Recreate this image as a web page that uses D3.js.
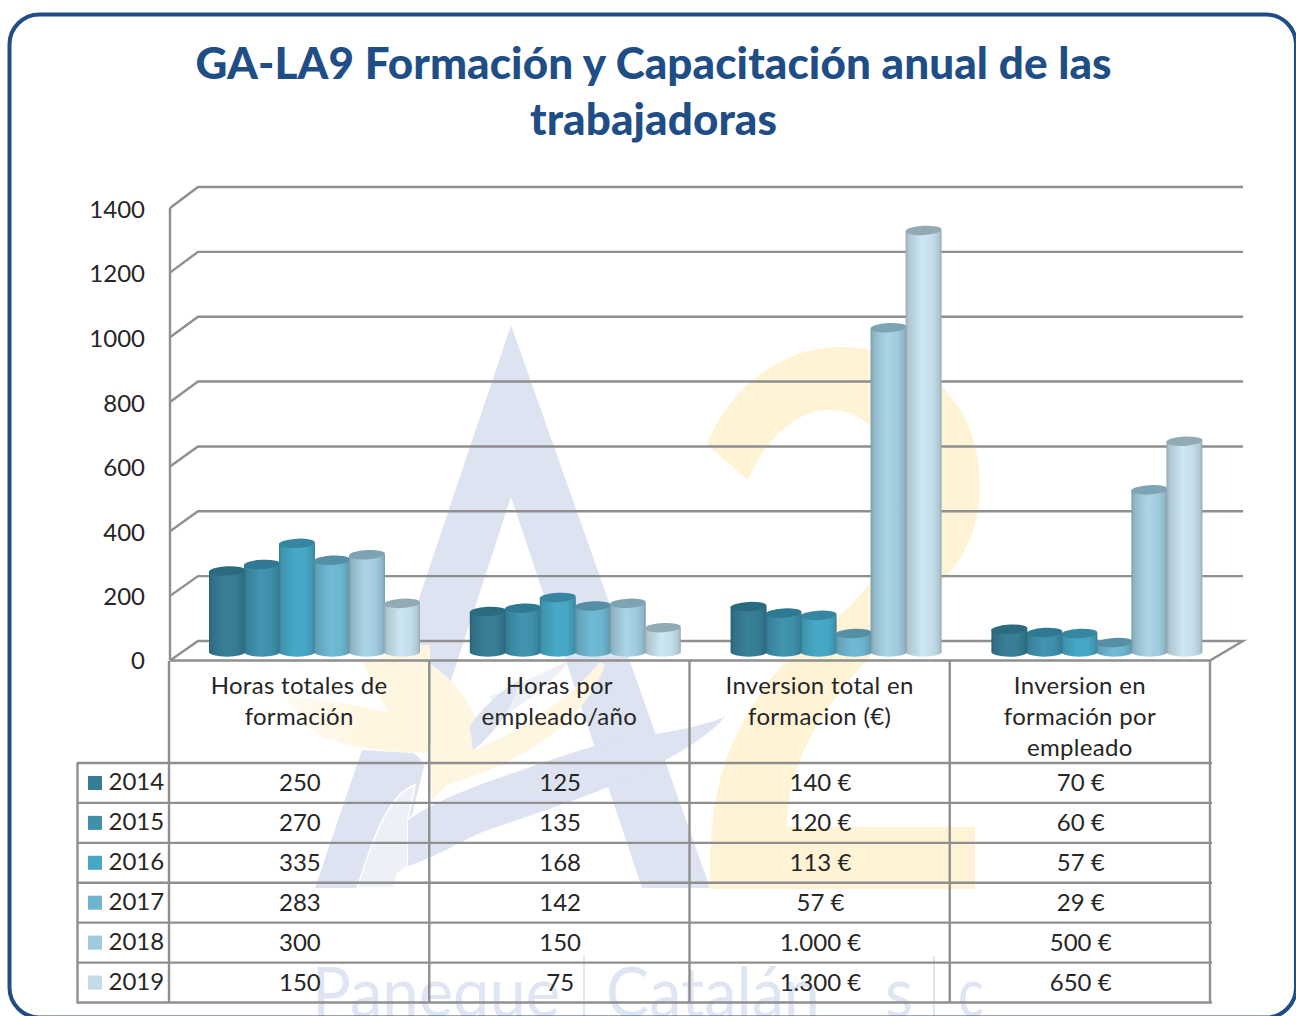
<!DOCTYPE html>
<html><head><meta charset="utf-8">
<script src="https://cdn.jsdelivr.net/npm/d3@7/dist/d3.min.js"></script>
<style>html,body{margin:0;padding:0;background:#fff;overflow:hidden}svg{display:block}text{font-family:Lato,sans-serif}</style>
</head><body><svg id="c" width="1296" height="1016"></svg>
<script>
const titleLines = ["GA-LA9 Formación y Capacitación anual de las", "trabajadoras"];
const categories = ["Horas totales de formación", "Horas por empleado/año", "Inversion total en formacion (€)", "Inversion en formación por empleado"];
const categoryLines = [["Horas totales de","formación"],["Horas por","empleado/año"],["Inversion total en","formacion (€)"],["Inversion en","formación por","empleado"]];
const years = ["2014","2015","2016","2017","2018","2019"];
const v2014 = [250,125,140,70];
const v2015 = [270,135,120,60];
const v2016 = [335,168,113,57];
const v2017 = [283,142,57,29];
const v2018 = [300,150,1000,500];
const v2019 = [150,75,1300,650];
const series = [v2014,v2015,v2016,v2017,v2018,v2019];
const colors = ["#367C94","#3E90AB","#46A6C3","#6DB4CE","#9FCADD","#C3DDE8"];
const brights = ["#397F97","#4294AF","#47A9C7","#70BAD6","#ABD5E6","#CBE7F3"];
const capColors = ["#2A6B80","#2F7A92","#36869F","#548FA6","#7EA4B4","#92AAB3"];
const yTicks = [0,200,400,600,800,1000,1200,1400];
const euroCol = [false,false,true,true];

const svg = d3.select("#c");
const defs = svg.append("defs");
const INK = "#262626", GRID = "#8f8f8f", NAVY = "#1F4E86";

// watermark
const wm = svg.append("g");
const LAV = "#DEE3F1", YEL = "#FFF3D6", YEL2 = "#FFF6E2", PALE = "#EEF0F8";
const fade = defs.append("linearGradient").attr("id","petal").attr("gradientUnits","userSpaceOnUse")
  .attr("x1",285).attr("x2",360).attr("y1",0).attr("y2",0);
fade.append("stop").attr("offset",0).attr("stop-color","#FFFBF2");
fade.append("stop").attr("offset",1).attr("stop-color",YEL2);
wm.append("path").attr("fill",YEL).attr("d","M707,445 C730,385 785,347 838,347 C920,347 980,400 980,485 C980,530 962,560 942,582 C880,650 788,720 787,827 L975,827 L975,889 L710,889 C708,800 722,745 770,680 C810,630 870,610 890,540 C912,470 880,410 830,410 C795,410 765,440 748,480 Z");
wm.append("path").attr("fill",LAV).attr("d","M511,325 L710,888 L642,888 L511,497 L430,745 L405,640 Z");
wm.append("path").attr("fill","url(#petal)").attr("d","M285,695 C320,700 360,705 388,713 L363,663 L420,645 L430,645 L430,753 C390,752 350,748 323,737 C305,728 295,712 285,695 Z");
wm.append("path").attr("fill",YEL2).attr("d","M431,665 C455,680 470,700 480,730 L473,750 C500,740 560,710 600,662 L605,665 C585,720 530,760 447,785 L432,800 L431,765 Z");
wm.append("path").attr("fill",PALE).attr("d","M490,697 L570,660 C555,680 530,700 505,715 Z");
wm.append("path").attr("fill",LAV).attr("d","M473,750 L470,727 C475,715 500,690 520,680 C515,700 500,730 473,750 Z");
wm.append("path").attr("fill",LAV).attr("d","M362,750 L413,753 Q420,757 424,766 L412,815 L408,820 L408,866 L398,873 L393,888 L315,888 Z");
wm.append("path").attr("fill",PALE).attr("stroke","#fff").attr("stroke-width",1.5).attr("d","M415,785 C385,795 370,850 357,888 L393,888 L398,873 L408,866 L408,820 Z");
wm.append("path").attr("fill",LAV).attr("d","M725,717 C690,730 660,733 620,740 C585,747 545,762 513,773 C480,785 440,798 408,820 L408,866 C440,855 460,842 480,833 C530,815 570,803 608,787 C650,770 700,745 725,717 Z");
wm.append("g").attr("fill","#DFE5F2").attr("font-size",70).attr("font-weight",400).selectAll("text")
  .data([["Paneque",312,248],["Catalán",606,214],["s",885,28],["c",958,26]]).join("text")
  .attr("x",d=>d[1]).attr("y",1017).attr("textLength",d=>d[2]).attr("lengthAdjust","spacingAndGlyphs").text(d=>d[0]);
wm.selectAll("rect.sep").data([583,933]).join("rect").attr("class","sep")
  .attr("x",d=>d).attr("y",956).attr("width",2).attr("height",60).attr("fill","#DFE5F2");

// frame
svg.append("rect").attr("x",9.5).attr("y",14.5).attr("width",1286.5).attr("height",1003).attr("rx",30)
  .attr("fill","none").attr("stroke",NAVY).attr("stroke-width",4);

// title
svg.append("g").selectAll("text").data(titleLines).join("text")
  .attr("x",653.5).attr("y",(d,i)=>79+i*56).attr("text-anchor","middle")
  .attr("font-size",44).attr("letter-spacing",0.1).attr("font-weight",900).attr("fill",NAVY).text(d=>d);

// scales
const yFront = d3.scaleLinear().domain([0,1400]).range([660.5,208]);
const yBack = d3.scaleLinear().domain([0,1400]).range([641,187]);
const yBar = d3.scaleLinear().domain([0,1400]).range([652,198]);
const xCat = d3.scaleBand().domain(categories).range([169,1210]);
const xGroup = d3.scaleBand().domain(categories).range([209.5,1252.7]);
const xSer = d3.scaleBand().domain(years).range([0,210]);
const yRow = d3.scaleBand().domain(years).range([763,1002.5]);

// gridlines
const grid = svg.append("g").attr("fill","none").attr("stroke",GRID).attr("stroke-width",2.4);
grid.selectAll("path").data(yTicks).join("path")
  .attr("d",v=> v===0
    ? d3.line()([[170,yFront(v)],[198,yBack(v)],[1243,yBack(v)],[1210,yFront(v)],[170,yFront(v)]])
    : d3.line()([[170,yFront(v)],[198,yBack(v)],[1243,yBack(v)]]));
grid.append("line").attr("x1",170).attr("x2",170).attr("y1",yFront(1400)).attr("y2",yFront(0));

// y axis
const axis = svg.append("g").attr("transform","translate(170,0)")
  .call(d3.axisLeft(yFront).tickValues(yTicks).tickSize(0).tickPadding(25).tickFormat(d3.format("d")));
axis.select(".domain").remove();
axis.selectAll("text").attr("font-size",24).attr("fill",INK).attr("dy",d=>d===0?"0.32em":"0.38em").style("font-family","Lato,sans-serif");

// gradients
years.forEach((y,i)=>{
  const g = defs.append("linearGradient").attr("id","cyl"+i);
  const dark = d3.color(colors[i]).darker(0.75).formatHex();
  const edge = d3.color(colors[i]).darker(0.3).formatHex();
  [[0,dark],[0.08,edge],[0.45,brights[i]],[0.75,colors[i]],[0.93,edge],[1,dark]].forEach(s=>
    g.append("stop").attr("offset",s[0]).attr("stop-color",s[1]));
});

// bars
const rx = xSer.bandwidth()/2 + 0.5, ry = 4.7;
const barsG = svg.append("g");
categories.forEach((c,ci)=>{
  const g = barsG.append("g").attr("transform",`translate(${xGroup(c)},0)`);
  years.forEach((y,si)=>{
    const v = series[si][ci];
    const x0 = xSer(y)-0.5, x1 = x0+2*rx, cx = x0+rx, top = yBar(v), bot = yBar(0);
    g.append("path").attr("fill",`url(#cyl${si})`)
      .attr("d",`M${x0},${top} L${x0},${bot} A${rx},${ry} 0 0 0 ${x1},${bot} L${x1},${top} Z`);
    g.append("ellipse").attr("cx",cx).attr("cy",top).attr("rx",rx).attr("ry",ry)
      .attr("transform",`rotate(-3 ${cx} ${top})`).attr("fill",capColors[si]);
  });
});

// table
const tbl = svg.append("g").attr("fill","none").attr("stroke",GRID).attr("stroke-width",2.4);
const colEdges = categories.map(c=>xCat(c)).concat([1210]);
const rowEdges = years.map(y=>yRow(y)).concat([1002.5]);
tbl.selectAll("line.h").data(rowEdges).join("line").attr("class","h")
  .attr("x1",77).attr("x2",1212).attr("y1",d=>d).attr("y2",d=>d);
tbl.selectAll("line.v").data(colEdges).join("line").attr("class","v")
  .attr("x1",d=>d).attr("x2",d=>d).attr("y1",661).attr("y2",1002.5);
tbl.append("line").attr("x1",77.5).attr("x2",77.5).attr("y1",763).attr("y2",1003.5);

// category labels
const catG = svg.append("g").attr("font-size",24).attr("fill",INK).attr("text-anchor","middle").attr("letter-spacing",0.3);
categories.forEach((c,i)=>{
  catG.append("g").selectAll("text").data(categoryLines[i]).join("text")
    .attr("x",xCat(c)+xCat.bandwidth()/2).attr("y",(d,k)=>694+k*31.2).text(d=>d);
});

// legend + values
const fmt = d3.formatLocale({decimal:",",thousands:".",grouping:[3],currency:["","€"]}).format(",d");
years.forEach((y,si)=>{
  const cy = yRow(y)+yRow.bandwidth()/2;
  svg.append("rect").attr("x",88).attr("y",cy-7).attr("width",14).attr("height",14).attr("fill",colors[si]);
  svg.append("text").attr("x",108.5).attr("y",cy+7.5).attr("font-size",24).attr("fill",INK).text(y);
  categories.forEach((c,ci)=>{
    svg.append("text").attr("x",xCat(c)+xCat.bandwidth()/2+0.8).attr("y",cy+8)
      .attr("text-anchor","middle").attr("font-size",24).attr("fill",INK)
      .text(fmt(series[si][ci])+(euroCol[ci]?" €":""));
  });
});
</script></body></html>
